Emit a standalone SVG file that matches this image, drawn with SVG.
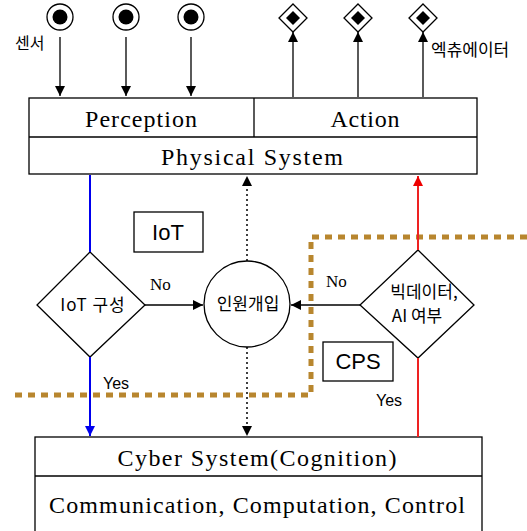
<svg xmlns="http://www.w3.org/2000/svg" width="527" height="531" viewBox="0 0 527 531">
<style>
.box{fill:#fff;stroke:#000;stroke-width:1.3}
.ln{fill:none;stroke:#000;stroke-width:1.3}
.serif{font-family:"Liberation Serif","Noto Sans CJK KR",serif;fill:#000}
.sans{font-family:"Liberation Sans","Noto Sans CJK KR",sans-serif;fill:#000}
.kr{font-family:"Noto Sans CJK KR",sans-serif;fill:#000}
.orange{fill:none;stroke:#b8862e;stroke-width:5;stroke-dasharray:7 6}
</style>
<defs>
<marker id="ah" viewBox="0 0 10 10" refX="10" refY="5" markerWidth="10" markerHeight="10" markerUnits="userSpaceOnUse" orient="auto"><path d="M0,0 L10,5 L0,10 Z" fill="#000"/></marker>
<marker id="ahb" viewBox="0 0 10 10" refX="10" refY="5" markerWidth="10" markerHeight="10" markerUnits="userSpaceOnUse" orient="auto"><path d="M0,0 L10,5 L0,10 Z" fill="#0000ee"/></marker>
<marker id="ahr" viewBox="0 0 10 10" refX="10" refY="5" markerWidth="10" markerHeight="10" markerUnits="userSpaceOnUse" orient="auto"><path d="M0,0 L10,5 L0,10 Z" fill="#ee0000"/></marker>
<g id="sensorIcon"><circle r="13" fill="#fff" stroke="#000" stroke-width="1.3"/><circle r="7.5" fill="#000"/></g>
<g id="actIcon"><path d="M0,-14 L14,0 L0,14 L-14,0 Z" fill="#fff" stroke="#000" stroke-width="1.3"/><path d="M0,-7 L7,0 L0,7 L-7,0 Z" fill="#000"/></g>
</defs>

<g id="cps-boundary">
<path class="orange" d="M527,237 H311 V395 H10"/>
</g>

<g id="sensors">
<use href="#sensorIcon" x="60" y="17"/>
<use href="#sensorIcon" x="126" y="17"/>
<use href="#sensorIcon" x="191" y="17"/>
<text class="kr" x="15" y="49" font-size="16">센서</text>
</g>

<g id="actuators">
<use href="#actIcon" x="293" y="18"/>
<use href="#actIcon" x="358" y="18"/>
<use href="#actIcon" x="423" y="18"/>
<text class="kr" x="431" y="56" font-size="17">엑츄에이터</text>
</g>

<g id="physical">
<rect class="box" x="29" y="98" width="448" height="76"/>
<line class="ln" x1="29" y1="137" x2="477" y2="137"/>
<line class="ln" x1="254" y1="98" x2="254" y2="137"/>
<text class="serif" x="141" y="127" font-size="24" text-anchor="middle" textLength="112">Perception</text>
<text class="serif" x="365" y="127" font-size="24" text-anchor="middle" textLength="69">Action</text>
<text class="serif" x="252" y="165" font-size="24" text-anchor="middle" textLength="182">Physical System</text>
</g>

<g id="iot-label">
<rect class="box" x="134" y="212" width="69" height="40"/>
<text class="sans" x="168" y="240" font-size="22" text-anchor="middle">IoT</text>
</g>

<g id="cps-label">
<rect class="box" x="323" y="342" width="70" height="39"/>
<text class="sans" x="358" y="369" font-size="22" text-anchor="middle">CPS</text>
</g>

<g id="iot-decision">
<path class="box" d="M90,252 L145,305 L90,357 L37,305 Z"/>
<text class="kr" x="93" y="311" font-size="17" text-anchor="middle" letter-spacing="1">IoT 구성</text>
</g>

<g id="human">
<circle class="box" cx="247" cy="304" r="43"/>
<text class="kr" x="248" y="310" font-size="17" text-anchor="middle">인원개입</text>
</g>

<g id="ai-decision">
<path class="box" d="M418,250 L474,305 L418,358 L360,305 Z"/>
<text class="kr" x="424" y="298" font-size="17" text-anchor="middle">빅데이터,</text>
<text class="kr" x="417" y="322" font-size="17" text-anchor="middle">AI 여부</text>
</g>

<g id="cyber">
<rect class="box" x="35" y="437" width="447" height="100"/>
<line class="ln" x1="35" y1="476" x2="482" y2="476"/>
<text class="serif" x="257" y="466" font-size="24" text-anchor="middle" textLength="279">Cyber System(Cognition)</text>
<text class="serif" x="257" y="513" font-size="24" text-anchor="middle" textLength="416">Communication, Computation, Control</text>
</g>

<g id="connectors">
<line class="ln" x1="60" y1="37" x2="60" y2="96" marker-end="url(#ah)"/>
<line class="ln" x1="126" y1="37" x2="126" y2="96" marker-end="url(#ah)"/>
<line class="ln" x1="191" y1="37" x2="191" y2="96" marker-end="url(#ah)"/>
<line class="ln" x1="293" y1="97" x2="293" y2="32" marker-end="url(#ah)"/>
<line class="ln" x1="358" y1="97" x2="358" y2="32" marker-end="url(#ah)"/>
<line class="ln" x1="423" y1="97" x2="423" y2="32" marker-end="url(#ah)"/>
<line x1="90" y1="175" x2="90" y2="252" stroke="#0000ee" stroke-width="2"/>
<line x1="90" y1="357" x2="90" y2="436" stroke="#0000ee" stroke-width="2" marker-end="url(#ahb)"/>
<line x1="418" y1="358" x2="418" y2="437" stroke="#ee2222" stroke-width="2"/>
<line x1="418" y1="250" x2="418" y2="176" stroke="#ee2222" stroke-width="2" marker-end="url(#ahr)"/>
<line x1="247" y1="261" x2="247" y2="176" stroke="#000" stroke-width="1.5" stroke-dasharray="2 3" marker-end="url(#ah)"/>
<line x1="247" y1="347" x2="247" y2="436" stroke="#000" stroke-width="1.5" stroke-dasharray="2 3" marker-end="url(#ah)"/>
<line class="ln" x1="145" y1="305" x2="203" y2="305" marker-end="url(#ah)"/>
<line class="ln" x1="360" y1="305" x2="291" y2="305" marker-end="url(#ah)"/>
<text class="serif" x="150" y="290" font-size="17">No</text>
<text class="serif" x="326" y="287" font-size="17">No</text>
<text class="sans" x="103" y="389" font-size="16">Yes</text>
<text class="sans" x="376" y="406" font-size="16">Yes</text>
</g>
</svg>
